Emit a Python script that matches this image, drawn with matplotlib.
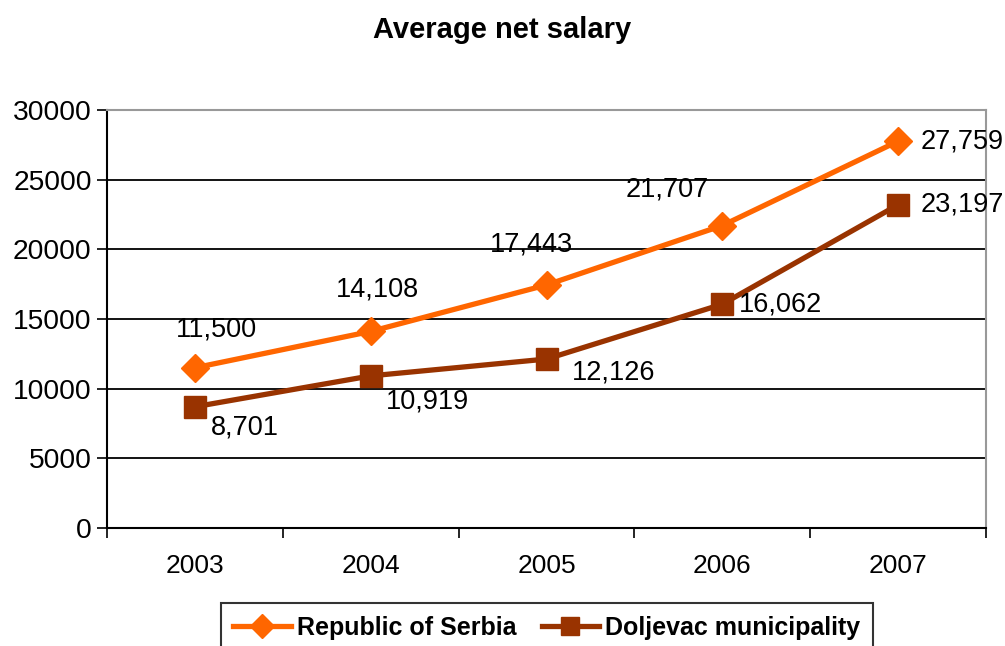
import numpy as np
import matplotlib.pyplot as plt

plt.rcParams['font.family'] = ['Liberation Sans', 'DejaVu Sans']

years = ['2003', '2004', '2005', '2006', '2007']
serbia = [11500, 14108, 17443, 21707, 27759]
doljevac = [8701, 10919, 12126, 16062, 23197]

# label offsets in pixels (dx, dy), from the marker centre
serbia_off = [(22, 38), (7, 42), (-15, 40), (-55, 36), (23, 0)]
doljevac_off = [(50, -21), (57, -26), (67, -13), (17, 0), (23, 0)]

fig = plt.figure(figsize=(10.05, 6.46), dpi=100)
ax = fig.add_axes([107/1005, 1-528/646, (986-107)/1005, (528-110)/646])

x = np.arange(len(years))
ax.plot(x, serbia, color='#FF6600', lw=3.8, marker='D', ms=14, mec='#FF6600',
        label='Republic of Serbia', zorder=3)
ax.plot(x, doljevac, color='#993300', lw=3.8, marker='s', ms=16, mec='#993300',
        label='Doljevac municipality', zorder=3)

def add_labels(vals, offs):
    for xi, v, (dx, dy) in zip(x, vals, offs):
        ha = 'left' if dx > 0 and abs(dy) < 5 else 'center'
        ax.annotate(f'{v:,}', (xi, v), xytext=(dx, dy), textcoords='offset pixels',
                    ha=ha, va='center', fontsize=19.5, zorder=4, annotation_clip=False)

add_labels(serbia, serbia_off)
add_labels(doljevac, doljevac_off)

ax.set_xlim(-0.5, len(years) - 0.5)
ax.set_ylim(0, 30000)
ax.set_yticks(np.arange(0, 30001, 5000))
ax.set_yticklabels([str(t) for t in range(0, 30001, 5000)], fontsize=20.3)
ax.set_xticks(x)
ax.set_xticklabels(years, fontsize=19)
ax.set_xticks(np.arange(-0.5, len(years), 1), minor=True)
ax.tick_params(axis='x', which='major', length=0, pad=19)
ax.tick_params(axis='x', which='minor', length=7, width=1.2, direction='out')
ax.tick_params(axis='y', length=7, width=1.2, direction='out', pad=4)

ax.grid(axis='y', color='black', lw=1.3)
ax.set_axisbelow(True)
for s in ['left', 'bottom']:
    ax.spines[s].set_color('black')
    ax.spines[s].set_linewidth(1.5)
for s in ['top', 'right']:
    ax.spines[s].set_color('#999999')
    ax.spines[s].set_linewidth(1.5)

fig.text(0.5, 1-30/646, 'Average net salary', ha='center', va='center',
         fontsize=21, fontweight='bold')

leg = fig.legend(loc='upper center', bbox_to_anchor=(547/1005, 1-603/646), ncol=2,
                 frameon=True, fancybox=False, edgecolor='black', handlelength=2.3,
                 columnspacing=1.0, handletextpad=0.25, borderpad=0.5, borderaxespad=0,
                 markerscale=0.85, prop={'size': 18, 'weight': 'bold'})
leg.get_frame().set_linewidth(1.5)

fig.savefig('out.png', dpi=100)
